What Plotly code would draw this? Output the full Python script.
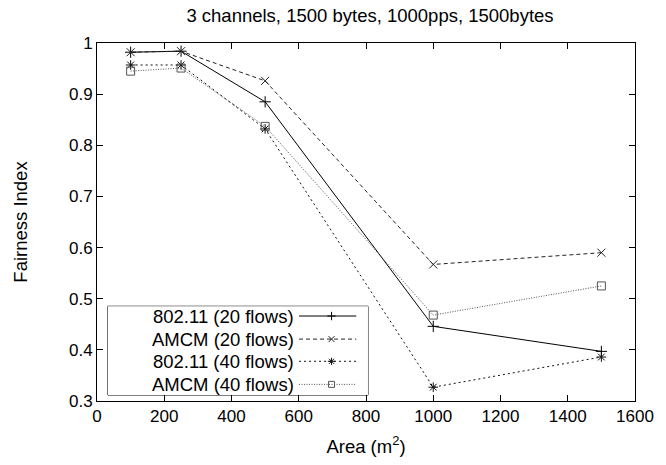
import plotly.graph_objects as go

# Area of the simulated region (m^2)
area = [100, 250, 500, 1000, 1500]

# Fairness index per scheme
fair_80211_20 = [0.982, 0.984, 0.885, 0.446, 0.397]
fair_amcm_20 = [0.982, 0.984, 0.926, 0.567, 0.590]
fair_80211_40 = [0.957, 0.957, 0.832, 0.327, 0.386]
fair_amcm_40 = [0.945, 0.951, 0.837, 0.468, 0.525]

series_names = ["802.11 (20 flows)", "AMCM (20 flows)", "802.11 (40 flows)", "AMCM (40 flows)"]
series_values = [fair_80211_20, fair_amcm_20, fair_80211_40, fair_amcm_40]
series_style = [
    dict(dash="solid", symbol="cross-thin-open", color="#000000"),
    dict(dash="4px,3px", symbol="x-thin-open", color="#222222"),
    dict(dash="2px,3px", symbol="asterisk-open", color="#111111"),
    dict(dash="1px,1.5px", symbol="square-open", color="#555555"),
]

FONT = "Liberation Sans, Arial, sans-serif"
FS_TICK = 17
FS_TEXT = 18.5

fig = go.Figure()
for name, vals, st in zip(series_names, series_values, series_style):
    fig.add_trace(go.Scatter(
        x=area, y=vals, name=name, mode="lines+markers",
        line=dict(color=st["color"], width=1, dash=st["dash"]),
        marker=dict(symbol=st["symbol"], size=8, color=st["color"],
                    line=dict(width=1, color=st["color"])),
        showlegend=False,
    ))

# Legend box drawn on an overlay axis: text on the left, sample on the right
row_y = [0.89, 0.63, 0.38, 0.12]
for name, st, ry in zip(series_names, series_style, row_y):
    fig.add_trace(go.Scatter(
        x=[0.735, 0.955], y=[ry, ry], mode="lines", xaxis="x2", yaxis="y2",
        line=dict(color=st["color"], width=1, dash=st["dash"]),
        showlegend=False, hoverinfo="skip",
    ))
    fig.add_trace(go.Scatter(
        x=[0.86], y=[ry], mode="markers", xaxis="x2", yaxis="y2",
        marker=dict(symbol=st["symbol"], size=6, color=st["color"],
                    line=dict(width=1, color=st["color"])),
        showlegend=False, hoverinfo="skip",
    ))
    fig.add_annotation(
        x=0.716, y=ry, xref="x2", yref="y2", text=name, showarrow=False,
        xanchor="right", yanchor="middle", xshift=2,
        font=dict(family=FONT, size=FS_TEXT, color="#000000"),
    )

axis_common = dict(
    showgrid=False, zeroline=False, showline=True, linecolor="#000000", linewidth=1,
    mirror="allticks", ticks="inside", ticklen=6, tickcolor="#000000",
    tickfont=dict(family=FONT, size=FS_TICK, color="#000000"),
)

plot_l, plot_r, plot_t, plot_b = 97, 643, 43, 402
W, H = 666, 465
leg_l, leg_r, leg_t, leg_b = 108, 372, 307, 396
pw, ph = plot_r - plot_l, plot_b - plot_t

fig.update_layout(
    width=W, height=H,
    margin=dict(l=plot_l, r=W - plot_r, t=plot_t, b=H - plot_b),
    paper_bgcolor="#ffffff", plot_bgcolor="#ffffff",
    title=dict(text="3 channels, 1500 bytes, 1000pps, 1500bytes", x=(plot_l + plot_r) / 2 / W,
               xanchor="center", y=1 - 16 / H, yanchor="middle",
               font=dict(family=FONT, size=FS_TEXT, color="#000000")),
    xaxis=dict(range=[0, 1600], tickvals=list(range(0, 1601, 200)),
               title=dict(text="Area (m<sup>2</sup>)", standoff=14,
                          font=dict(family=FONT, size=FS_TEXT, color="#000000")),
               **axis_common),
    yaxis=dict(range=[0.3, 1.0], tickvals=[0.3, 0.4, 0.5, 0.6, 0.7, 0.8, 0.9, 1.0],
               ticktext=["0.3", "0.4", "0.5", "0.6", "0.7", "0.8", "0.9", "1"],
               title=dict(text="Fairness Index", standoff=36,
                          font=dict(family=FONT, size=FS_TEXT, color="#000000")),
               **axis_common),
    xaxis2=dict(domain=[(leg_l - plot_l) / pw, (leg_r - plot_l) / pw], range=[0, 1],
                visible=False, fixedrange=True, anchor="y2"),
    yaxis2=dict(domain=[(plot_b - leg_b) / ph, (plot_b - leg_t) / ph], range=[0, 1],
                visible=False, fixedrange=True, anchor="x2"),
    shapes=[dict(type="rect", xref="paper", yref="paper",
                 x0=(leg_l - plot_l) / pw, x1=(leg_r - plot_l) / pw,
                 y0=(plot_b - leg_b) / ph, y1=(plot_b - leg_t) / ph,
                 line=dict(color="#000000", width=1), fillcolor="#ffffff", layer="below")],
)

fig.write_html("out.html")
